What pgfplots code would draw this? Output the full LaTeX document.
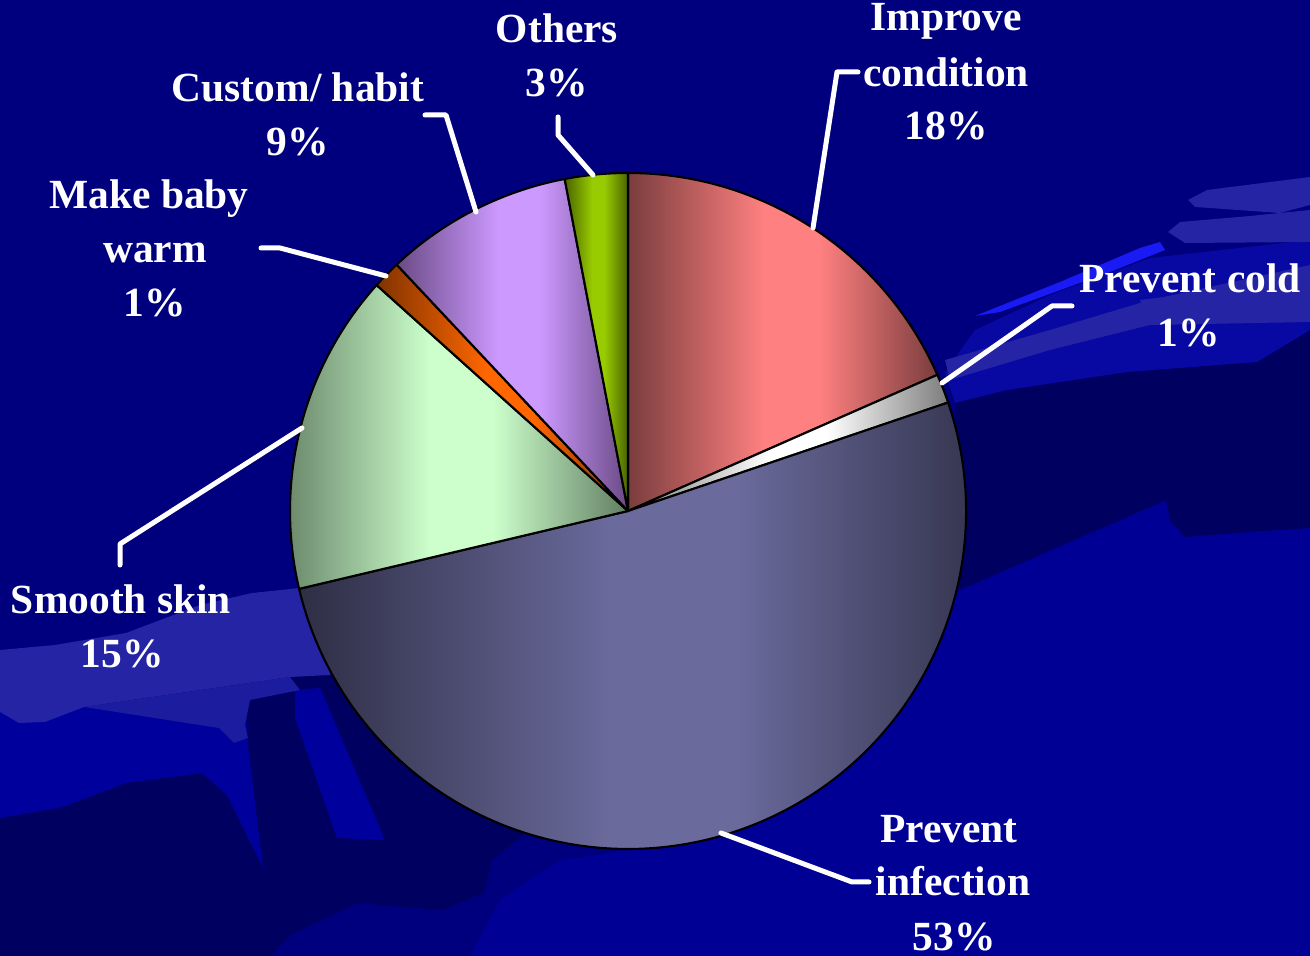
\documentclass[border=0pt]{standalone}
\usepackage{fontspec}
\setmainfont{Liberation Serif}
\usepackage{pgfplots}
\usepackage{pgfplotstable}
\pgfplotsset{compat=1.18}

\definecolor{bgBase}{HTML}{00007E}
\definecolor{bgDark}{HTML}{000060}
\definecolor{bgBright}{HTML}{000094}
\definecolor{bgBrightL}{HTML}{00009C}
\definecolor{bgBand}{HTML}{2424A4}
\definecolor{bgBand2}{HTML}{1C1C9E}
\definecolor{bgMid}{HTML}{0808A2}
\definecolor{bgStreak}{HTML}{1A1AF5}

\definecolor{imprB}{HTML}{FF8080}\definecolor{imprD}{HTML}{7A3D3D}
\definecolor{coldB}{HTML}{FFFFFF}\definecolor{coldD}{HTML}{7C7C7C}
\definecolor{infeB}{HTML}{6A6A9C}\definecolor{infeD}{HTML}{2E2E45}
\definecolor{smooB}{HTML}{CCFFCC}\definecolor{smooD}{HTML}{627D62}
\definecolor{warmB}{HTML}{FF6600}\definecolor{warmD}{HTML}{803300}
\definecolor{custB}{HTML}{CC99FF}\definecolor{custD}{HTML}{6A4A85}
\definecolor{otheB}{HTML}{99CC00}\definecolor{otheD}{HTML}{4A6400}

\newcommand\mkshade[3]{\pgfdeclarehorizontalshading{#1}{100bp}{color(0bp)=(#3); color(25bp)=(#3); color(47bp)=(#2); color(56bp)=(#2); color(75bp)=(#3); color(100bp)=(#3)}}
\mkshade{impr}{imprB}{imprD}
\mkshade{cold}{coldB}{coldD}
\mkshade{infe}{infeB}{infeD}
\mkshade{smoo}{smooB}{smooD}
\mkshade{warm}{warmB}{warmD}
\mkshade{cust}{custB}{custD}
\mkshade{othe}{otheB}{otheD}

\pgfplotstableread{
slice value
Improve 18.4
Cold 1.4
Infection 51.5
Smooth 15.35
Warm 1.35
Custom 9.0
Others 3.0
}\piedata

\begin{document}
\begin{tikzpicture}
\pgfplotstablegetelem{0}{value}\of\piedata \edef\vA{\pgfplotsretval}
\pgfplotstablegetelem{1}{value}\of\piedata \edef\vB{\pgfplotsretval}
\pgfplotstablegetelem{2}{value}\of\piedata \edef\vC{\pgfplotsretval}
\pgfplotstablegetelem{3}{value}\of\piedata \edef\vD{\pgfplotsretval}
\pgfplotstablegetelem{4}{value}\of\piedata \edef\vE{\pgfplotsretval}
\pgfplotstablegetelem{5}{value}\of\piedata \edef\vF{\pgfplotsretval}
\pgfplotstablegetelem{6}{value}\of\piedata \edef\vG{\pgfplotsretval}
\pgfmathsetmacro\aA{90}
\pgfmathsetmacro\aB{\aA-3.6*\vA}
\pgfmathsetmacro\aC{\aB-3.6*\vB}
\pgfmathsetmacro\aD{\aC-3.6*\vC}
\pgfmathsetmacro\aE{\aD-3.6*\vD}
\pgfmathsetmacro\aF{\aE-3.6*\vE}
\pgfmathsetmacro\aG{\aF-3.6*\vF}
\pgfmathsetmacro\aH{\aG-3.6*\vG}
\def\R{33.8mm}
\useasboundingbox (0,0) rectangle (131mm,95.6mm);
\clip (0,0) rectangle (131mm,95.6mm);
\begin{axis}[at={(0,0)}, anchor=south west, x=0.1mm, y=0.1mm,
  xmin=0, xmax=1310, ymin=0, ymax=956, y dir=reverse,
  enlargelimits=false, hide axis, clip=false]
% background
\fill[bgBase] (0,0) rectangle (1310,956);
\fill[bgBright] (960,590) -- (1293,443) -- (1310,425) -- (1310,956) -- (470,956) -- (500,900) -- (560,860) -- (700,840) -- cycle;
\fill[bgDark] (955,403) -- (1007,390) -- (1127,372) -- (1257,362) -- (1310,330) -- (1310,528) -- (1250,532) -- (1185,537) -- (1170,520) -- (1166,500) -- (960,590) -- cycle;
\fill[bgMid] (945,372) -- (975,330) -- (1050,295) -- (1150,258) -- (1310,240) -- (1310,330) -- (1257,362) -- (1127,372) -- (1007,390) -- (955,403) -- cycle;
\fill[bgBand] (945,360) -- (1050,330) -- (1150,300) -- (1310,265) -- (1310,290) -- (1150,325) -- (1050,350) -- (950,380) -- cycle;
\fill[bgBand] (1140,300) -- (1310,280) -- (1310,322) -- (1150,325) -- cycle;
\fill[bgStreak] (975,316) -- (1060,282) -- (1140,248) -- (1160,242) -- (1165,250) -- (1110,272) -- (1000,312) -- cycle;
\fill[bgBand] (1188,200) -- (1207,190) -- (1310,177) -- (1310,205) -- (1280,213) -- (1195,207) -- cycle;
\fill[bgBand] (1168,232) -- (1180,222) -- (1250,216) -- (1310,210) -- (1310,242) -- (1185,243) -- cycle;
% left side
\fill[bgDark] (0,800) -- (240,700) -- (330,660) -- (620,640) -- (620,830) -- (526,833) -- (492,860) -- (484,893) -- (442,910) -- (358,903) -- (290,935) -- (270,956) -- (0,956) -- cycle;
\fill[bgBrightL] (0,712) -- (84,707) -- (245,700) -- (248,745) -- (263,868) -- (227,795) -- (202,773) -- (126,783) -- (63,807) -- (0,818) -- cycle;
\fill[bgBrightL] (295,690) -- (320,688) -- (385,840) -- (337,838) -- (295,718) -- cycle;
\fill[bgBand] (0,650) -- (55,645) -- (126,633) -- (200,605) -- (252,593) -- (300,588) -- (330,600) -- (330,675) -- (290,677) -- (84,707) -- (45,722) -- (19,723) -- (0,712) -- cycle;
\fill[bgBand2] (84,707) -- (290,677) -- (300,690) -- (250,700) -- (245,725) -- (248,738) -- (234,743) -- (219,728) -- cycle;
% pie slices
\shadedraw[shading=impr, draw=black, line width=0.6pt, line join=round] (628,511) -- ++(\aA:\R) arc[start angle=\aA, end angle=\aB, radius=\R] -- cycle;
\shadedraw[shading=cold, draw=black, line width=0.6pt, line join=round] (628,511) -- ++(\aB:\R) arc[start angle=\aB, end angle=\aC, radius=\R] -- cycle;
\shadedraw[shading=infe, draw=black, line width=0.6pt, line join=round] (628,511) -- ++(\aC:\R) arc[start angle=\aC, end angle=\aD, radius=\R] -- cycle;
\shadedraw[shading=smoo, draw=black, line width=0.6pt, line join=round] (628,511) -- ++(\aD:\R) arc[start angle=\aD, end angle=\aE, radius=\R] -- cycle;
\shadedraw[shading=warm, draw=black, line width=0.6pt, line join=round] (628,511) -- ++(\aE:\R) arc[start angle=\aE, end angle=\aF, radius=\R] -- cycle;
\shadedraw[shading=cust, draw=black, line width=0.6pt, line join=round] (628,511) -- ++(\aF:\R) arc[start angle=\aF, end angle=\aG, radius=\R] -- cycle;
\shadedraw[shading=othe, draw=black, line width=0.6pt, line join=round] (628,511) -- ++(\aG:\R) arc[start angle=\aG, end angle=\aH, radius=\R] -- cycle;
% leader lines
\begin{scope}[white, line width=0.5mm, line cap=round, line join=round]
\draw (813,228) -- (837,72) -- (858,72);
\draw (942,383) -- (1052,306) -- (1072,306);
\draw (721,833) -- (852,882) -- (869,882);
\draw (302,428) -- (120,544) -- (120,565);
\draw (386,276) -- (280,248) -- (261,248);
\draw (476,212) -- (446,115) -- (425,115);
\draw (593,175) -- (558,135) -- (558,117);
\end{scope}
% labels
\begin{scope}[every node/.style={anchor=base, inner sep=0pt, text=white, font=\fontsize{11.8}{14}\selectfont\bfseries}]
\node at (946,31) {Improve};
\node at (946,87) {condition};
\node at (946,140) {18\%};
\node at (1190,293) {Prevent cold};
\node at (1189,347) {1\%};
\node at (949,843) {Prevent};
\node at (953,896) {infection};
\node at (954,950) {53\%};
\node at (121,614) {Smooth skin};
\node at (122,668) {15\%};
\node at (149,209) {Make baby};
\node at (155,263) {warm};
\node at (155,317) {1\%};
\node at (298,102) {Custom/ habit};
\node at (298,156) {9\%};
\node at (557,43) {Others};
\node at (557,97) {3\%};
\end{scope}
\end{axis}
\end{tikzpicture}
\end{document}
